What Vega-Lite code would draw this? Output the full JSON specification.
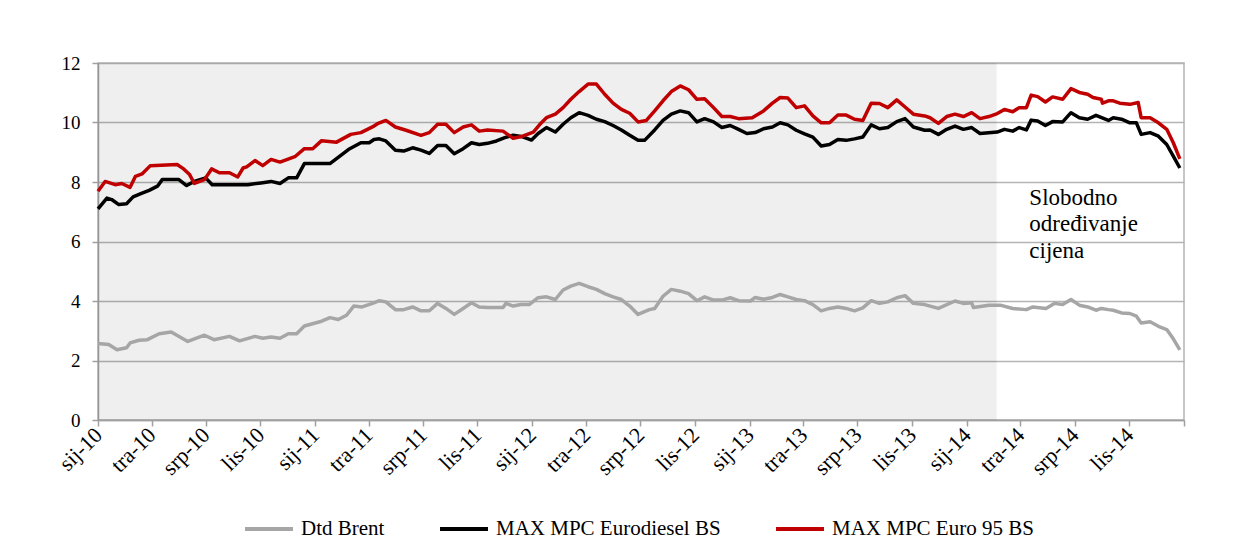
{
"$schema": "https://vega.github.io/schema/vega-lite/v6.json",
"width": 1086, "height": 357,
"autosize": {"type": "none"},
"padding": {"left": 98, "top": 63, "right": 60, "bottom": 123},
"background": "white",
"config": {"view": {"stroke": "#b4b4b4", "strokeWidth": 1.5}, "font": "Liberation Serif"},
"datasets": {
"prices": [
{"date":"2010-01-01","series":"Dtd Brent","value":2.57},{"date":"2010-01-19","series":"Dtd Brent","value":2.54},{"date":"2010-02-02","series":"Dtd Brent","value":2.36},{"date":"2010-02-18","series":"Dtd Brent","value":2.43},{"date":"2010-02-24","series":"Dtd Brent","value":2.59},{"date":"2010-03-11","series":"Dtd Brent","value":2.68},{"date":"2010-03-25","series":"Dtd Brent","value":2.70},{"date":"2010-04-14","series":"Dtd Brent","value":2.90},{"date":"2010-05-04","series":"Dtd Brent","value":2.96},{"date":"2010-06-01","series":"Dtd Brent","value":2.64},{"date":"2010-06-29","series":"Dtd Brent","value":2.85},{"date":"2010-07-15","series":"Dtd Brent","value":2.70},{"date":"2010-08-10","series":"Dtd Brent","value":2.81},{"date":"2010-08-27","series":"Dtd Brent","value":2.66},{"date":"2010-09-22","series":"Dtd Brent","value":2.81},{"date":"2010-10-05","series":"Dtd Brent","value":2.75},{"date":"2010-10-19","series":"Dtd Brent","value":2.79},{"date":"2010-11-03","series":"Dtd Brent","value":2.75},{"date":"2010-11-17","series":"Dtd Brent","value":2.90},{"date":"2010-12-01","series":"Dtd Brent","value":2.90},{"date":"2010-12-14","series":"Dtd Brent","value":3.16},{"date":"2011-01-12","series":"Dtd Brent","value":3.32},{"date":"2011-01-26","series":"Dtd Brent","value":3.44},{"date":"2011-02-09","series":"Dtd Brent","value":3.38},{"date":"2011-02-23","series":"Dtd Brent","value":3.52},{"date":"2011-03-07","series":"Dtd Brent","value":3.83},{"date":"2011-03-21","series":"Dtd Brent","value":3.80},{"date":"2011-04-10","series":"Dtd Brent","value":3.94},{"date":"2011-04-19","series":"Dtd Brent","value":4.01},{"date":"2011-04-30","series":"Dtd Brent","value":3.97},{"date":"2011-05-16","series":"Dtd Brent","value":3.71},{"date":"2011-05-30","series":"Dtd Brent","value":3.71},{"date":"2011-06-14","series":"Dtd Brent","value":3.80},{"date":"2011-06-28","series":"Dtd Brent","value":3.67},{"date":"2011-07-12","series":"Dtd Brent","value":3.67},{"date":"2011-07-26","series":"Dtd Brent","value":3.92},{"date":"2011-08-09","series":"Dtd Brent","value":3.75},{"date":"2011-08-23","series":"Dtd Brent","value":3.55},{"date":"2011-09-07","series":"Dtd Brent","value":3.75},{"date":"2011-09-21","series":"Dtd Brent","value":3.94},{"date":"2011-10-04","series":"Dtd Brent","value":3.80},{"date":"2011-10-18","series":"Dtd Brent","value":3.78},{"date":"2011-11-13","series":"Dtd Brent","value":3.78},{"date":"2011-11-18","series":"Dtd Brent","value":3.92},{"date":"2011-11-30","series":"Dtd Brent","value":3.83},{"date":"2011-12-13","series":"Dtd Brent","value":3.88},{"date":"2011-12-27","series":"Dtd Brent","value":3.88},{"date":"2012-01-11","series":"Dtd Brent","value":4.11},{"date":"2012-01-25","series":"Dtd Brent","value":4.14},{"date":"2012-02-09","series":"Dtd Brent","value":4.05},{"date":"2012-02-22","series":"Dtd Brent","value":4.37},{"date":"2012-03-06","series":"Dtd Brent","value":4.50},{"date":"2012-03-20","series":"Dtd Brent","value":4.59},{"date":"2012-04-04","series":"Dtd Brent","value":4.48},{"date":"2012-04-18","series":"Dtd Brent","value":4.39},{"date":"2012-05-02","series":"Dtd Brent","value":4.25},{"date":"2012-05-16","series":"Dtd Brent","value":4.14},{"date":"2012-05-30","series":"Dtd Brent","value":4.05},{"date":"2012-06-13","series":"Dtd Brent","value":3.83},{"date":"2012-06-27","series":"Dtd Brent","value":3.55},{"date":"2012-07-16","series":"Dtd Brent","value":3.71},{"date":"2012-07-25","series":"Dtd Brent","value":3.75},{"date":"2012-08-08","series":"Dtd Brent","value":4.16},{"date":"2012-08-22","series":"Dtd Brent","value":4.39},{"date":"2012-09-06","series":"Dtd Brent","value":4.33},{"date":"2012-09-20","series":"Dtd Brent","value":4.25},{"date":"2012-10-04","series":"Dtd Brent","value":4.01},{"date":"2012-10-17","series":"Dtd Brent","value":4.14},{"date":"2012-11-01","series":"Dtd Brent","value":4.03},{"date":"2012-11-15","series":"Dtd Brent","value":4.03},{"date":"2012-11-29","series":"Dtd Brent","value":4.11},{"date":"2012-12-13","series":"Dtd Brent","value":4.01},{"date":"2013-01-02","series":"Dtd Brent","value":4.00},{"date":"2013-01-10","series":"Dtd Brent","value":4.12},{"date":"2013-01-24","series":"Dtd Brent","value":4.06},{"date":"2013-02-08","series":"Dtd Brent","value":4.12},{"date":"2013-02-21","series":"Dtd Brent","value":4.22},{"date":"2013-03-06","series":"Dtd Brent","value":4.14},{"date":"2013-03-20","series":"Dtd Brent","value":4.05},{"date":"2013-04-03","series":"Dtd Brent","value":4.01},{"date":"2013-04-17","series":"Dtd Brent","value":3.88},{"date":"2013-05-01","series":"Dtd Brent","value":3.67},{"date":"2013-05-15","series":"Dtd Brent","value":3.75},{"date":"2013-05-29","series":"Dtd Brent","value":3.80},{"date":"2013-06-12","series":"Dtd Brent","value":3.75},{"date":"2013-06-26","series":"Dtd Brent","value":3.67},{"date":"2013-07-10","series":"Dtd Brent","value":3.77},{"date":"2013-07-24","series":"Dtd Brent","value":4.01},{"date":"2013-08-07","series":"Dtd Brent","value":3.92},{"date":"2013-08-21","series":"Dtd Brent","value":3.97},{"date":"2013-09-05","series":"Dtd Brent","value":4.11},{"date":"2013-09-19","series":"Dtd Brent","value":4.18},{"date":"2013-10-03","series":"Dtd Brent","value":3.92},{"date":"2013-10-22","series":"Dtd Brent","value":3.88},{"date":"2013-11-14","series":"Dtd Brent","value":3.75},{"date":"2013-12-12","series":"Dtd Brent","value":4.00},{"date":"2013-12-26","series":"Dtd Brent","value":3.92},{"date":"2014-01-09","series":"Dtd Brent","value":3.94},{"date":"2014-01-12","series":"Dtd Brent","value":3.78},{"date":"2014-02-07","series":"Dtd Brent","value":3.86},{"date":"2014-02-26","series":"Dtd Brent","value":3.86},{"date":"2014-03-19","series":"Dtd Brent","value":3.75},{"date":"2014-04-11","series":"Dtd Brent","value":3.71},{"date":"2014-04-22","series":"Dtd Brent","value":3.80},{"date":"2014-05-14","series":"Dtd Brent","value":3.75},{"date":"2014-05-28","series":"Dtd Brent","value":3.92},{"date":"2014-06-11","series":"Dtd Brent","value":3.88},{"date":"2014-06-25","series":"Dtd Brent","value":4.05},{"date":"2014-07-09","series":"Dtd Brent","value":3.86},{"date":"2014-07-23","series":"Dtd Brent","value":3.80},{"date":"2014-08-06","series":"Dtd Brent","value":3.69},{"date":"2014-08-15","series":"Dtd Brent","value":3.75},{"date":"2014-08-27","series":"Dtd Brent","value":3.71},{"date":"2014-09-04","series":"Dtd Brent","value":3.69},{"date":"2014-09-18","series":"Dtd Brent","value":3.60},{"date":"2014-10-02","series":"Dtd Brent","value":3.58},{"date":"2014-10-13","series":"Dtd Brent","value":3.49},{"date":"2014-10-21","series":"Dtd Brent","value":3.26},{"date":"2014-11-05","series":"Dtd Brent","value":3.30},{"date":"2014-11-19","series":"Dtd Brent","value":3.15},{"date":"2014-12-03","series":"Dtd Brent","value":3.04},{"date":"2014-12-14","series":"Dtd Brent","value":2.73},{"date":"2014-12-25","series":"Dtd Brent","value":2.36},
{"date":"2010-01-01","series":"MAX MPC Eurodiesel BS","value":7.10},{"date":"2010-01-16","series":"MAX MPC Eurodiesel BS","value":7.46},{"date":"2010-01-24","series":"MAX MPC Eurodiesel BS","value":7.41},{"date":"2010-02-05","series":"MAX MPC Eurodiesel BS","value":7.24},{"date":"2010-02-18","series":"MAX MPC Eurodiesel BS","value":7.27},{"date":"2010-03-01","series":"MAX MPC Eurodiesel BS","value":7.50},{"date":"2010-03-14","series":"MAX MPC Eurodiesel BS","value":7.61},{"date":"2010-03-28","series":"MAX MPC Eurodiesel BS","value":7.72},{"date":"2010-04-11","series":"MAX MPC Eurodiesel BS","value":7.86},{"date":"2010-04-19","series":"MAX MPC Eurodiesel BS","value":8.08},{"date":"2010-05-17","series":"MAX MPC Eurodiesel BS","value":8.08},{"date":"2010-05-30","series":"MAX MPC Eurodiesel BS","value":7.88},{"date":"2010-06-12","series":"MAX MPC Eurodiesel BS","value":8.02},{"date":"2010-07-01","series":"MAX MPC Eurodiesel BS","value":8.14},{"date":"2010-07-12","series":"MAX MPC Eurodiesel BS","value":7.91},{"date":"2010-09-10","series":"MAX MPC Eurodiesel BS","value":7.91},{"date":"2010-10-02","series":"MAX MPC Eurodiesel BS","value":7.97},{"date":"2010-10-19","series":"MAX MPC Eurodiesel BS","value":8.02},{"date":"2010-11-03","series":"MAX MPC Eurodiesel BS","value":7.95},{"date":"2010-11-17","series":"MAX MPC Eurodiesel BS","value":8.14},{"date":"2010-12-01","series":"MAX MPC Eurodiesel BS","value":8.14},{"date":"2010-12-14","series":"MAX MPC Eurodiesel BS","value":8.62},{"date":"2011-01-26","series":"MAX MPC Eurodiesel BS","value":8.62},{"date":"2011-02-26","series":"MAX MPC Eurodiesel BS","value":9.09},{"date":"2011-03-19","series":"MAX MPC Eurodiesel BS","value":9.32},{"date":"2011-04-02","series":"MAX MPC Eurodiesel BS","value":9.32},{"date":"2011-04-10","series":"MAX MPC Eurodiesel BS","value":9.43},{"date":"2011-04-19","series":"MAX MPC Eurodiesel BS","value":9.45},{"date":"2011-04-30","series":"MAX MPC Eurodiesel BS","value":9.38},{"date":"2011-05-16","series":"MAX MPC Eurodiesel BS","value":9.07},{"date":"2011-05-30","series":"MAX MPC Eurodiesel BS","value":9.04},{"date":"2011-06-14","series":"MAX MPC Eurodiesel BS","value":9.15},{"date":"2011-06-28","series":"MAX MPC Eurodiesel BS","value":9.07},{"date":"2011-07-12","series":"MAX MPC Eurodiesel BS","value":8.96},{"date":"2011-07-26","series":"MAX MPC Eurodiesel BS","value":9.23},{"date":"2011-08-09","series":"MAX MPC Eurodiesel BS","value":9.23},{"date":"2011-08-23","series":"MAX MPC Eurodiesel BS","value":8.95},{"date":"2011-09-07","series":"MAX MPC Eurodiesel BS","value":9.12},{"date":"2011-09-21","series":"MAX MPC Eurodiesel BS","value":9.32},{"date":"2011-10-04","series":"MAX MPC Eurodiesel BS","value":9.26},{"date":"2011-10-18","series":"MAX MPC Eurodiesel BS","value":9.30},{"date":"2011-11-02","series":"MAX MPC Eurodiesel BS","value":9.38},{"date":"2011-11-16","series":"MAX MPC Eurodiesel BS","value":9.49},{"date":"2011-11-30","series":"MAX MPC Eurodiesel BS","value":9.57},{"date":"2011-12-16","series":"MAX MPC Eurodiesel BS","value":9.52},{"date":"2011-12-31","series":"MAX MPC Eurodiesel BS","value":9.41},{"date":"2012-01-11","series":"MAX MPC Eurodiesel BS","value":9.63},{"date":"2012-01-25","series":"MAX MPC Eurodiesel BS","value":9.83},{"date":"2012-02-09","series":"MAX MPC Eurodiesel BS","value":9.68},{"date":"2012-02-22","series":"MAX MPC Eurodiesel BS","value":9.94},{"date":"2012-03-06","series":"MAX MPC Eurodiesel BS","value":10.16},{"date":"2012-03-20","series":"MAX MPC Eurodiesel BS","value":10.33},{"date":"2012-04-04","series":"MAX MPC Eurodiesel BS","value":10.24},{"date":"2012-04-18","series":"MAX MPC Eurodiesel BS","value":10.11},{"date":"2012-05-02","series":"MAX MPC Eurodiesel BS","value":10.03},{"date":"2012-05-16","series":"MAX MPC Eurodiesel BS","value":9.90},{"date":"2012-05-30","series":"MAX MPC Eurodiesel BS","value":9.75},{"date":"2012-06-13","series":"MAX MPC Eurodiesel BS","value":9.57},{"date":"2012-06-27","series":"MAX MPC Eurodiesel BS","value":9.40},{"date":"2012-07-08","series":"MAX MPC Eurodiesel BS","value":9.40},{"date":"2012-07-25","series":"MAX MPC Eurodiesel BS","value":9.75},{"date":"2012-08-08","series":"MAX MPC Eurodiesel BS","value":10.07},{"date":"2012-08-22","series":"MAX MPC Eurodiesel BS","value":10.28},{"date":"2012-09-06","series":"MAX MPC Eurodiesel BS","value":10.39},{"date":"2012-09-20","series":"MAX MPC Eurodiesel BS","value":10.33},{"date":"2012-10-04","series":"MAX MPC Eurodiesel BS","value":10.02},{"date":"2012-10-17","series":"MAX MPC Eurodiesel BS","value":10.13},{"date":"2012-11-01","series":"MAX MPC Eurodiesel BS","value":10.02},{"date":"2012-11-15","series":"MAX MPC Eurodiesel BS","value":9.83},{"date":"2012-11-29","series":"MAX MPC Eurodiesel BS","value":9.90},{"date":"2012-12-13","series":"MAX MPC Eurodiesel BS","value":9.77},{"date":"2012-12-27","series":"MAX MPC Eurodiesel BS","value":9.63},{"date":"2013-01-10","series":"MAX MPC Eurodiesel BS","value":9.66},{"date":"2013-01-24","series":"MAX MPC Eurodiesel BS","value":9.79},{"date":"2013-02-08","series":"MAX MPC Eurodiesel BS","value":9.85},{"date":"2013-02-21","series":"MAX MPC Eurodiesel BS","value":9.99},{"date":"2013-03-06","series":"MAX MPC Eurodiesel BS","value":9.92},{"date":"2013-03-20","series":"MAX MPC Eurodiesel BS","value":9.74},{"date":"2013-04-03","series":"MAX MPC Eurodiesel BS","value":9.62},{"date":"2013-04-17","series":"MAX MPC Eurodiesel BS","value":9.51},{"date":"2013-05-01","series":"MAX MPC Eurodiesel BS","value":9.21},{"date":"2013-05-15","series":"MAX MPC Eurodiesel BS","value":9.26},{"date":"2013-05-29","series":"MAX MPC Eurodiesel BS","value":9.43},{"date":"2013-06-12","series":"MAX MPC Eurodiesel BS","value":9.40},{"date":"2013-06-26","series":"MAX MPC Eurodiesel BS","value":9.45},{"date":"2013-07-10","series":"MAX MPC Eurodiesel BS","value":9.51},{"date":"2013-07-24","series":"MAX MPC Eurodiesel BS","value":9.92},{"date":"2013-08-07","series":"MAX MPC Eurodiesel BS","value":9.79},{"date":"2013-08-21","series":"MAX MPC Eurodiesel BS","value":9.83},{"date":"2013-09-05","series":"MAX MPC Eurodiesel BS","value":10.03},{"date":"2013-09-19","series":"MAX MPC Eurodiesel BS","value":10.13},{"date":"2013-10-03","series":"MAX MPC Eurodiesel BS","value":9.85},{"date":"2013-10-22","series":"MAX MPC Eurodiesel BS","value":9.74},{"date":"2013-10-31","series":"MAX MPC Eurodiesel BS","value":9.75},{"date":"2013-11-14","series":"MAX MPC Eurodiesel BS","value":9.60},{"date":"2013-11-28","series":"MAX MPC Eurodiesel BS","value":9.77},{"date":"2013-12-12","series":"MAX MPC Eurodiesel BS","value":9.88},{"date":"2013-12-26","series":"MAX MPC Eurodiesel BS","value":9.77},{"date":"2014-01-09","series":"MAX MPC Eurodiesel BS","value":9.83},{"date":"2014-01-23","series":"MAX MPC Eurodiesel BS","value":9.63},{"date":"2014-02-21","series":"MAX MPC Eurodiesel BS","value":9.68},{"date":"2014-03-05","series":"MAX MPC Eurodiesel BS","value":9.77},{"date":"2014-03-19","series":"MAX MPC Eurodiesel BS","value":9.71},{"date":"2014-03-30","series":"MAX MPC Eurodiesel BS","value":9.83},{"date":"2014-04-11","series":"MAX MPC Eurodiesel BS","value":9.75},{"date":"2014-04-19","series":"MAX MPC Eurodiesel BS","value":10.08},{"date":"2014-04-30","series":"MAX MPC Eurodiesel BS","value":10.05},{"date":"2014-05-13","series":"MAX MPC Eurodiesel BS","value":9.90},{"date":"2014-05-25","series":"MAX MPC Eurodiesel BS","value":10.03},{"date":"2014-06-11","series":"MAX MPC Eurodiesel BS","value":10.02},{"date":"2014-06-25","series":"MAX MPC Eurodiesel BS","value":10.33},{"date":"2014-07-09","series":"MAX MPC Eurodiesel BS","value":10.16},{"date":"2014-07-23","series":"MAX MPC Eurodiesel BS","value":10.11},{"date":"2014-08-06","series":"MAX MPC Eurodiesel BS","value":10.24},{"date":"2014-08-27","series":"MAX MPC Eurodiesel BS","value":10.07},{"date":"2014-09-04","series":"MAX MPC Eurodiesel BS","value":10.16},{"date":"2014-09-18","series":"MAX MPC Eurodiesel BS","value":10.11},{"date":"2014-10-02","series":"MAX MPC Eurodiesel BS","value":9.99},{"date":"2014-10-13","series":"MAX MPC Eurodiesel BS","value":9.99},{"date":"2014-10-21","series":"MAX MPC Eurodiesel BS","value":9.60},{"date":"2014-11-05","series":"MAX MPC Eurodiesel BS","value":9.66},{"date":"2014-11-19","series":"MAX MPC Eurodiesel BS","value":9.54},{"date":"2014-12-03","series":"MAX MPC Eurodiesel BS","value":9.26},{"date":"2014-12-14","series":"MAX MPC Eurodiesel BS","value":8.87},{"date":"2014-12-25","series":"MAX MPC Eurodiesel BS","value":8.47},
{"date":"2010-01-01","series":"MAX MPC Euro 95 BS","value":7.69},{"date":"2010-01-13","series":"MAX MPC Euro 95 BS","value":8.02},{"date":"2010-01-30","series":"MAX MPC Euro 95 BS","value":7.91},{"date":"2010-02-10","series":"MAX MPC Euro 95 BS","value":7.95},{"date":"2010-02-24","series":"MAX MPC Euro 95 BS","value":7.82},{"date":"2010-03-05","series":"MAX MPC Euro 95 BS","value":8.19},{"date":"2010-03-16","series":"MAX MPC Euro 95 BS","value":8.27},{"date":"2010-03-30","series":"MAX MPC Euro 95 BS","value":8.55},{"date":"2010-05-14","series":"MAX MPC Euro 95 BS","value":8.59},{"date":"2010-05-25","series":"MAX MPC Euro 95 BS","value":8.44},{"date":"2010-06-04","series":"MAX MPC Euro 95 BS","value":8.25},{"date":"2010-06-12","series":"MAX MPC Euro 95 BS","value":7.95},{"date":"2010-06-29","series":"MAX MPC Euro 95 BS","value":8.08},{"date":"2010-07-11","series":"MAX MPC Euro 95 BS","value":8.44},{"date":"2010-07-24","series":"MAX MPC Euro 95 BS","value":8.31},{"date":"2010-08-10","series":"MAX MPC Euro 95 BS","value":8.31},{"date":"2010-08-24","series":"MAX MPC Euro 95 BS","value":8.17},{"date":"2010-09-02","series":"MAX MPC Euro 95 BS","value":8.47},{"date":"2010-09-08","series":"MAX MPC Euro 95 BS","value":8.51},{"date":"2010-09-22","series":"MAX MPC Euro 95 BS","value":8.72},{"date":"2010-10-05","series":"MAX MPC Euro 95 BS","value":8.55},{"date":"2010-10-19","series":"MAX MPC Euro 95 BS","value":8.76},{"date":"2010-11-03","series":"MAX MPC Euro 95 BS","value":8.67},{"date":"2010-11-28","series":"MAX MPC Euro 95 BS","value":8.85},{"date":"2010-12-14","series":"MAX MPC Euro 95 BS","value":9.12},{"date":"2010-12-28","series":"MAX MPC Euro 95 BS","value":9.12},{"date":"2011-01-12","series":"MAX MPC Euro 95 BS","value":9.39},{"date":"2011-02-06","series":"MAX MPC Euro 95 BS","value":9.34},{"date":"2011-03-02","series":"MAX MPC Euro 95 BS","value":9.60},{"date":"2011-03-19","series":"MAX MPC Euro 95 BS","value":9.66},{"date":"2011-04-10","series":"MAX MPC Euro 95 BS","value":9.88},{"date":"2011-04-16","series":"MAX MPC Euro 95 BS","value":9.96},{"date":"2011-04-30","series":"MAX MPC Euro 95 BS","value":10.07},{"date":"2011-05-16","series":"MAX MPC Euro 95 BS","value":9.85},{"date":"2011-06-03","series":"MAX MPC Euro 95 BS","value":9.74},{"date":"2011-06-28","series":"MAX MPC Euro 95 BS","value":9.57},{"date":"2011-07-12","series":"MAX MPC Euro 95 BS","value":9.66},{"date":"2011-07-26","series":"MAX MPC Euro 95 BS","value":9.94},{"date":"2011-08-09","series":"MAX MPC Euro 95 BS","value":9.94},{"date":"2011-08-23","series":"MAX MPC Euro 95 BS","value":9.66},{"date":"2011-09-07","series":"MAX MPC Euro 95 BS","value":9.85},{"date":"2011-09-21","series":"MAX MPC Euro 95 BS","value":9.92},{"date":"2011-10-04","series":"MAX MPC Euro 95 BS","value":9.71},{"date":"2011-10-18","series":"MAX MPC Euro 95 BS","value":9.75},{"date":"2011-11-13","series":"MAX MPC Euro 95 BS","value":9.71},{"date":"2011-11-30","series":"MAX MPC Euro 95 BS","value":9.47},{"date":"2011-12-16","series":"MAX MPC Euro 95 BS","value":9.54},{"date":"2012-01-03","series":"MAX MPC Euro 95 BS","value":9.68},{"date":"2012-01-14","series":"MAX MPC Euro 95 BS","value":9.94},{"date":"2012-01-25","series":"MAX MPC Euro 95 BS","value":10.16},{"date":"2012-02-09","series":"MAX MPC Euro 95 BS","value":10.28},{"date":"2012-02-22","series":"MAX MPC Euro 95 BS","value":10.50},{"date":"2012-03-06","series":"MAX MPC Euro 95 BS","value":10.78},{"date":"2012-03-20","series":"MAX MPC Euro 95 BS","value":11.04},{"date":"2012-04-04","series":"MAX MPC Euro 95 BS","value":11.29},{"date":"2012-04-18","series":"MAX MPC Euro 95 BS","value":11.29},{"date":"2012-05-02","series":"MAX MPC Euro 95 BS","value":10.95},{"date":"2012-05-16","series":"MAX MPC Euro 95 BS","value":10.65},{"date":"2012-05-30","series":"MAX MPC Euro 95 BS","value":10.44},{"date":"2012-06-13","series":"MAX MPC Euro 95 BS","value":10.31},{"date":"2012-06-27","series":"MAX MPC Euro 95 BS","value":10.02},{"date":"2012-07-11","series":"MAX MPC Euro 95 BS","value":10.07},{"date":"2012-07-25","series":"MAX MPC Euro 95 BS","value":10.39},{"date":"2012-08-08","series":"MAX MPC Euro 95 BS","value":10.73},{"date":"2012-08-22","series":"MAX MPC Euro 95 BS","value":11.04},{"date":"2012-09-06","series":"MAX MPC Euro 95 BS","value":11.23},{"date":"2012-09-20","series":"MAX MPC Euro 95 BS","value":11.10},{"date":"2012-10-04","series":"MAX MPC Euro 95 BS","value":10.78},{"date":"2012-10-17","series":"MAX MPC Euro 95 BS","value":10.80},{"date":"2012-11-01","series":"MAX MPC Euro 95 BS","value":10.50},{"date":"2012-11-15","series":"MAX MPC Euro 95 BS","value":10.20},{"date":"2012-11-29","series":"MAX MPC Euro 95 BS","value":10.20},{"date":"2012-12-13","series":"MAX MPC Euro 95 BS","value":10.13},{"date":"2013-01-05","series":"MAX MPC Euro 95 BS","value":10.16},{"date":"2013-01-24","series":"MAX MPC Euro 95 BS","value":10.39},{"date":"2013-02-08","series":"MAX MPC Euro 95 BS","value":10.65},{"date":"2013-02-21","series":"MAX MPC Euro 95 BS","value":10.84},{"date":"2013-03-06","series":"MAX MPC Euro 95 BS","value":10.82},{"date":"2013-03-20","series":"MAX MPC Euro 95 BS","value":10.50},{"date":"2013-04-03","series":"MAX MPC Euro 95 BS","value":10.56},{"date":"2013-04-17","series":"MAX MPC Euro 95 BS","value":10.22},{"date":"2013-05-01","series":"MAX MPC Euro 95 BS","value":9.99},{"date":"2013-05-15","series":"MAX MPC Euro 95 BS","value":9.99},{"date":"2013-05-29","series":"MAX MPC Euro 95 BS","value":10.25},{"date":"2013-06-12","series":"MAX MPC Euro 95 BS","value":10.25},{"date":"2013-06-26","series":"MAX MPC Euro 95 BS","value":10.11},{"date":"2013-07-10","series":"MAX MPC Euro 95 BS","value":10.07},{"date":"2013-07-24","series":"MAX MPC Euro 95 BS","value":10.65},{"date":"2013-08-07","series":"MAX MPC Euro 95 BS","value":10.64},{"date":"2013-08-21","series":"MAX MPC Euro 95 BS","value":10.50},{"date":"2013-09-05","series":"MAX MPC Euro 95 BS","value":10.76},{"date":"2013-09-19","series":"MAX MPC Euro 95 BS","value":10.52},{"date":"2013-10-03","series":"MAX MPC Euro 95 BS","value":10.28},{"date":"2013-10-22","series":"MAX MPC Euro 95 BS","value":10.22},{"date":"2013-10-31","series":"MAX MPC Euro 95 BS","value":10.16},{"date":"2013-11-14","series":"MAX MPC Euro 95 BS","value":9.97},{"date":"2013-11-28","series":"MAX MPC Euro 95 BS","value":10.20},{"date":"2013-12-12","series":"MAX MPC Euro 95 BS","value":10.28},{"date":"2013-12-26","series":"MAX MPC Euro 95 BS","value":10.20},{"date":"2014-01-09","series":"MAX MPC Euro 95 BS","value":10.33},{"date":"2014-01-23","series":"MAX MPC Euro 95 BS","value":10.13},{"date":"2014-02-07","series":"MAX MPC Euro 95 BS","value":10.20},{"date":"2014-02-21","series":"MAX MPC Euro 95 BS","value":10.30},{"date":"2014-03-05","series":"MAX MPC Euro 95 BS","value":10.44},{"date":"2014-03-19","series":"MAX MPC Euro 95 BS","value":10.36},{"date":"2014-03-30","series":"MAX MPC Euro 95 BS","value":10.50},{"date":"2014-04-11","series":"MAX MPC Euro 95 BS","value":10.50},{"date":"2014-04-19","series":"MAX MPC Euro 95 BS","value":10.92},{"date":"2014-04-30","series":"MAX MPC Euro 95 BS","value":10.87},{"date":"2014-05-13","series":"MAX MPC Euro 95 BS","value":10.69},{"date":"2014-05-25","series":"MAX MPC Euro 95 BS","value":10.86},{"date":"2014-06-11","series":"MAX MPC Euro 95 BS","value":10.78},{"date":"2014-06-25","series":"MAX MPC Euro 95 BS","value":11.14},{"date":"2014-07-09","series":"MAX MPC Euro 95 BS","value":11.01},{"date":"2014-07-23","series":"MAX MPC Euro 95 BS","value":10.95},{"date":"2014-08-01","series":"MAX MPC Euro 95 BS","value":10.84},{"date":"2014-08-15","series":"MAX MPC Euro 95 BS","value":10.78},{"date":"2014-08-17","series":"MAX MPC Euro 95 BS","value":10.65},{"date":"2014-08-27","series":"MAX MPC Euro 95 BS","value":10.73},{"date":"2014-09-04","series":"MAX MPC Euro 95 BS","value":10.73},{"date":"2014-09-15","series":"MAX MPC Euro 95 BS","value":10.65},{"date":"2014-10-02","series":"MAX MPC Euro 95 BS","value":10.61},{"date":"2014-10-16","series":"MAX MPC Euro 95 BS","value":10.67},{"date":"2014-10-21","series":"MAX MPC Euro 95 BS","value":10.16},{"date":"2014-11-05","series":"MAX MPC Euro 95 BS","value":10.16},{"date":"2014-11-19","series":"MAX MPC Euro 95 BS","value":9.99},{"date":"2014-12-03","series":"MAX MPC Euro 95 BS","value":9.77},{"date":"2014-12-14","series":"MAX MPC Euro 95 BS","value":9.32},{"date":"2014-12-25","series":"MAX MPC Euro 95 BS","value":8.78}
]
},
"layer": [
{
"data": {"values": [{"date": "2010-01-01", "date_end": "2014-02-20"}]},
"mark": {"type": "rect", "color": "#000000", "opacity": 0.063},
"encoding": {
"x": {"field": "date", "type": "temporal", "title": null,
"scale": {"type": "utc", "nice": false, "domain": [{"year": 2010, "month": 1, "date": 1, "utc": true}, {"year": 2015, "month": 1, "date": 1, "utc": true}]},
"axis": {"title": null, "grid": false, "domainColor": "#a0a0a0", "domainWidth": 1.5, "tickColor": "#a0a0a0", "tickWidth": 1.5, "tickSize": 6, "labelAngle": -45, "labelAlign": "right", "labelBaseline": "middle", "labelFontSize": 22, "labelColor": "#000000", "labelFont": "Liberation Serif", "labelOverlap": false, "labelBound": false, "labelFlush": false, "labelPadding": 5,
"values": [{"year":2010,"month":1,"date":1,"utc":true},{"year":2010,"month":4,"date":1,"utc":true},{"year":2010,"month":7,"date":1,"utc":true},{"year":2010,"month":10,"date":1,"utc":true},{"year":2011,"month":1,"date":1,"utc":true},{"year":2011,"month":4,"date":1,"utc":true},{"year":2011,"month":7,"date":1,"utc":true},{"year":2011,"month":10,"date":1,"utc":true},{"year":2012,"month":1,"date":1,"utc":true},{"year":2012,"month":4,"date":1,"utc":true},{"year":2012,"month":7,"date":1,"utc":true},{"year":2012,"month":10,"date":1,"utc":true},{"year":2013,"month":1,"date":1,"utc":true},{"year":2013,"month":4,"date":1,"utc":true},{"year":2013,"month":7,"date":1,"utc":true},{"year":2013,"month":10,"date":1,"utc":true},{"year":2014,"month":1,"date":1,"utc":true},{"year":2014,"month":4,"date":1,"utc":true},{"year":2014,"month":7,"date":1,"utc":true},{"year":2014,"month":10,"date":1,"utc":true},{"year":2015,"month":1,"date":1,"utc":true}],
"labelExpr": "utcyear(datum.value) >= 2015 ? '' : ['sij','velj','ožu','tra','svi','lip','srp','kol','ruj','lis','stu','pro'][utcmonth(datum.value)] + '-' + substring(toString(utcyear(datum.value)), 2, 4)"}},
"x2": {"field": "date_end"}
}
},
{
"data": {"name": "prices"},
"mark": {"type": "line", "strokeWidth": 3.5, "strokeJoin": "round"},
"encoding": {
"x": {"field": "date", "type": "temporal", "title": null},
"y": {"field": "value", "type": "quantitative", "title": null,
"scale": {"domain": [0, 12], "nice": false, "zero": true},
"axis": {"title": null, "values": [0, 2, 4, 6, 8, 10, 12], "grid": true, "gridColor": "#b4b4b4", "gridWidth": 1.5, "domainColor": "#a0a0a0", "domainWidth": 1.5, "tickColor": "#a0a0a0", "tickWidth": 1.5, "tickSize": 6, "labelPadding": 12, "labelFontSize": 19, "labelFont": "Liberation Serif", "labelColor": "#000000"}},
"color": {"field": "series", "type": "nominal",
"scale": {"domain": ["Dtd Brent", "MAX MPC Eurodiesel BS", "MAX MPC Euro 95 BS"], "range": ["#a6a6a6", "#000000", "#c00000"]},
"legend": {"title": null, "orient": "none", "legendX": 145, "legendY": 440, "direction": "horizontal", "symbolType": "stroke", "symbolStrokeWidth": 4, "symbolSize": 2300, "labelFontSize": 21, "labelFont": "Liberation Serif", "labelColor": "#000000", "columnPadding": 47, "labelOffset": 6, "labelLimit": 400}},
"order": {"field": "date", "type": "temporal"}
}
},
{
"data": {"values": [{"date": "2014-04-16", "value": 7.23, "label": "Slobodno\nodređivanje\ncijena"}]},
"mark": {"type": "text", "align": "left", "baseline": "alphabetic", "fontSize": 23, "font": "Liberation Serif", "color": "#000000", "lineBreak": "\n", "lineHeight": 26.5},
"encoding": {
"x": {"field": "date", "type": "temporal"},
"y": {"field": "value", "type": "quantitative"},
"text": {"field": "label"}
}
}
]
}
